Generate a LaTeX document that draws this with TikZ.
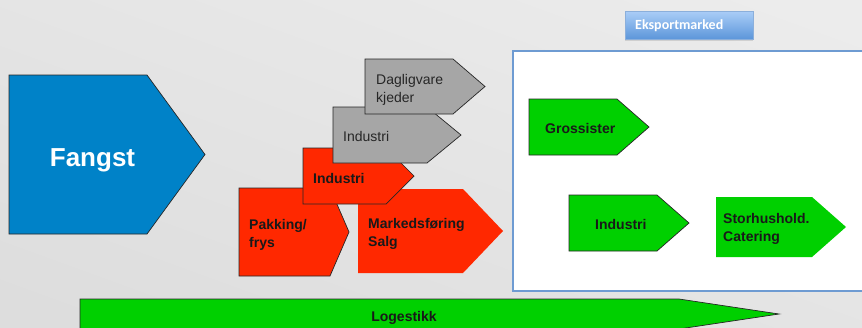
\documentclass[tikz,border=0pt]{standalone}
\usepackage{fontspec}
\setmainfont{Liberation Sans}
\newfontfamily\btnfont{Carlito}
\usetikzlibrary{shadows}

\definecolor{fangstblue}{RGB}{0,130,200}
\definecolor{redfill}{RGB}{255,40,0}
\definecolor{grayfill}{RGB}{166,166,166}
\definecolor{greenfill}{RGB}{0,208,0}
\definecolor{frameblue}{RGB}{110,155,210}
\definecolor{bgtop}{RGB}{236,236,236}
\definecolor{bgbottom}{RGB}{221,221,221}
\definecolor{btntop}{RGB}{170,205,247}
\definecolor{btnbottom}{RGB}{92,150,218}

% pentagon arrow: style, left, top, shoulder, tip, bottom
\newcommand{\chevron}[6]{%
	\path[#1] (#2,#3) -- (#4,#3) -- (#5,{(#3+#6)/2}) -- (#4,#6) -- (#2,#6) -- cycle;}

\begin{document}
\begin{tikzpicture}[x=1pt, y=-1pt,
		edged/.style={draw=black!85, line width=0.7pt},
		bluebox/.style={edged, fill=fangstblue},
		redbox/.style={fill=redfill},
		graybox/.style={edged, fill=grayfill},
		greenbox/.style={fill=greenfill},
		plaintext/.style={inner sep=0pt, align=left, text=black!85, font=\fontsize{14}{18}\selectfont},
		boldtext/.style={inner sep=0pt, align=left, text=black!90, font=\fontsize{14}{18}\selectfont\bfseries}]
		
		% Background
		\useasboundingbox (0,0) rectangle (862,327);
		\clip (0,0) rectangle (862,327);
		\shade[top color=bgtop, bottom color=bgbottom, shading angle=-20] (-40,-40) rectangle (902,367);
		
		% Export market frame
		\draw[frameblue, line width=2pt, fill=white] (513,51) rectangle (880,291);
		\node[anchor=north west, draw=frameblue!80, top color=btntop, bottom color=btnbottom,
		text=white, font=\btnfont\fontsize{14}{16}\selectfont\bfseries,
		text width=108pt, align=left, inner xsep=10pt, minimum height=28pt,
		drop shadow={shadow xshift=0pt, shadow yshift=-2pt, opacity=0.25}] (eksport) at (625,11) {Eksportmarked};
		
		% Catch
		\chevron{bluebox}{9}{75}{147}{205}{234}
		\node[inner sep=0pt, anchor=base, text=white, font=\fontsize{26}{30}\selectfont\bfseries] (fangst) at (92.5,166) {Fangst};
		
		% Processing and sales
		\chevron{redbox,edged}{239}{188}{330}{349}{276}
		\chevron{redbox}{358}{189}{463}{503}{273}
		\chevron{redbox,edged}{303}{148}{386}{414}{204}
		\chevron{graybox}{333}{107}{427}{461}{163}
		\chevron{graybox}{365}{59}{453}{485}{114}
		
		\node[plaintext, anchor=west] (dagligvare) at (376,89.4) {Dagligvare\\kjeder};
		\node[plaintext, anchor=base west] (industrigray) at (343,141) {Industri};
		\node[boldtext, anchor=base west] (industrired) at (313,183) {Industri};
		\node[boldtext, anchor=west] (pakking) at (249,234.4) {Pakking/\\frys};
		\node[boldtext, anchor=west] (markedsforing) at (368,234.4) {Markedsføring\\Salg};
		
		% Export market
		\chevron{greenbox,edged}{529}{99}{617}{649}{155}
		\chevron{greenbox,edged}{569}{195}{657}{689}{251}
		\chevron{greenbox}{716}{197}{812}{846}{257}
		
		\node[boldtext, anchor=base west] (grossister) at (545,133) {Grossister};
		\node[boldtext, anchor=base west] (industrigreen) at (595,229) {Industri};
		\node[boldtext, anchor=west] (storhushold) at (723,229.4) {Storhushold.\\Catering};
		
		% Logistics
		\chevron{greenbox,edged}{80}{299}{679}{779}{329}
		\node[boldtext, anchor=base] (logestikk) at (404,321) {Logestikk};
	\end{tikzpicture}
\end{document}
